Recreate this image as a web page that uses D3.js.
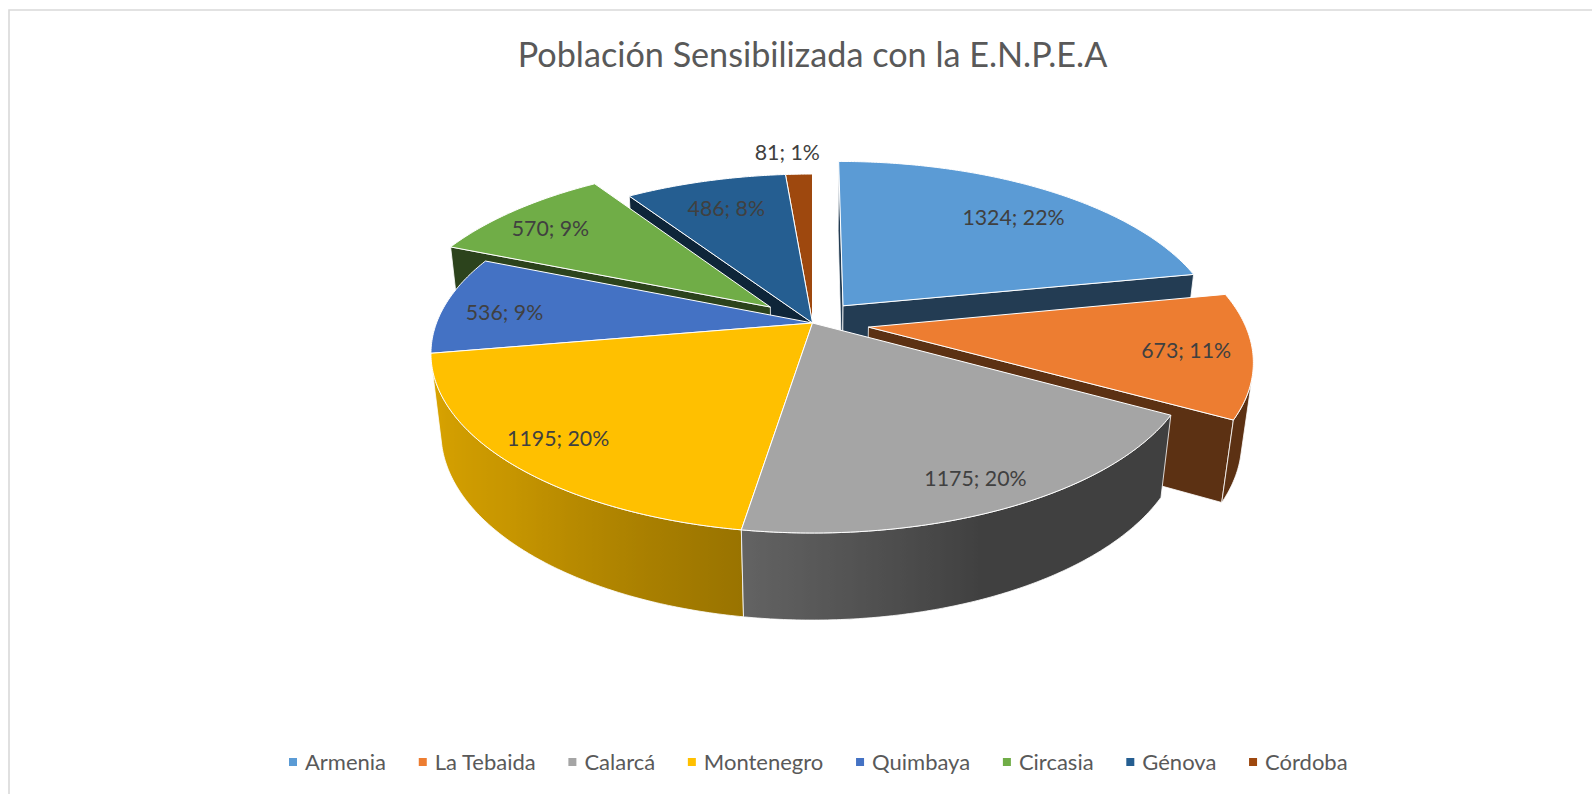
<!DOCTYPE html>
<html>
<head>
<meta charset="utf-8">
<style>
    html, body { margin: 0; padding: 0; background: white; }
    svg { display: block; font-family: Lato, sans-serif; }
</style>
<script src="https://cdn.jsdelivr.net/npm/d3@7"></script>
</head>
<body>
<svg id="chart" width="1592" height="794"></svg>
<script>
// values
const municipios = ["Armenia", "La Tebaida", "Calarcá", "Montenegro", "Quimbaya", "Circasia", "Génova", "Córdoba"];
const poblacion = [1324, 673, 1175, 1195, 536, 570, 486, 81];
const porcentaje = [22, 11, 20, 20, 9, 9, 8, 1];

const colores = ["#5b9bd5", "#ed7d31", "#a5a5a5", "#ffc000", "#4472c4", "#70ad47", "#255e91", "#9e480e"];
const separacion = [0.13, 0.15, 0, 0, 0, 0.147, 0, 0];       // how far each slice is pulled out
const labelRadio = [0.90, 0.98, 0.86, 0.85, 0.83, 0.97, 0.78, 1.175];
const labelGiro = [2, 0, 0, 1, -2, -1.5, 0, -1.5];           // degrees

const width = 1592, height = 794;
const cx = 812.5, cy = 323;
// perspective of the tilted disc
const radX = 376, radY = 174.3, depth = 80, persp = 0.17, perspH = 0.026;

const svg = d3.select("#chart");
const defs = svg.append("defs");

function project(u, v, h) {
    let w = 1 - persp * v + perspH * h;
    return [cx + radX * u / w, cy + (radY * v + depth * h) / w];
}

// wall brightness by angle (degrees from 12 o'clock)
const brillo = d3.scaleLinear().domain([0, 158, 189, 225, 260, 360]).range([0.39, 0.39, 0.6, 0.78, 0.87, 0.87]).clamp(true);

function shade(color, k) {
    let c = d3.rgb(color);
    return d3.rgb(c.r * k, c.g * k, c.b * k).formatHex();
}

const line = d3.line();
const closed = d3.line().curve(d3.curveLinearClosed);

const arcs = d3.pie().sort(null).value(d => d)(poblacion).map((a, i) => {
    let mid = (a.startAngle + a.endAngle) / 2;
    let d = separacion[i];
    return {
        i: i, a0: a.startAngle, a1: a.endAngle, mid: mid,
        ox: d * Math.sin(mid), oy: -d * Math.cos(mid)
    };
});

function rim(s, a, h) {
    return project(s.ox + Math.sin(a), s.oy - Math.cos(a), h);
}

function sweep(lo, hi) {
    return d3.range(lo, hi, 0.01).concat([hi]);
}

function drawSlice(g, s) {
    let color = colores[s.i];
    let apexTop = project(s.ox, s.oy, 0);
    let apexBot = project(s.ox, s.oy, 1);
    let dark = shade(color, 0.39);

    // radial faces, only the ones turned to the camera
    let start = [apexTop, rim(s, s.a0, 0), rim(s, s.a0, 1), apexBot];
    let end = [apexTop, rim(s, s.a1, 0), rim(s, s.a1, 1), apexBot];
    if (d3.polygonArea(start) > 0) {
        g.append("path").attr("d", closed(start)).attr("fill", dark).attr("stroke", "#fff").attr("stroke-width", 0.8);
    }
    if (d3.polygonArea(end) < 0) {
        g.append("path").attr("d", closed(end)).attr("fill", dark).attr("stroke", "#fff").attr("stroke-width", 0.8);
    }

    // outer wall: keep the part of the rim facing the camera
    let steps = sweep(s.a0, s.a1);
    let seen = [];
    for (let j = 0; j < steps.length - 1; j++) {
        let a = steps[j], b = steps[j + 1];
        if (d3.polygonArea([rim(s, a, 0), rim(s, b, 0), rim(s, b, 1), rim(s, a, 1)]) > 0) {
            seen.push(a, b);
        }
    }
    if (seen.length) {
        let ang = sweep(d3.min(seen), d3.max(seen));
        let xs = ang.map(a => rim(s, a, 0)[0]);
        let x1 = d3.min(xs), x2 = d3.max(xs);
        let pos = d3.scaleLinear().domain([x1, x2]).range([0, 1]);
        let id = "wall" + s.i;
        defs.append("linearGradient")
            .attr("id", id)
            .attr("gradientUnits", "userSpaceOnUse")
            .attr("x1", x1).attr("x2", x2).attr("y1", 0).attr("y2", 0)
            .selectAll("stop")
            .data(ang.slice().sort((p, q) => rim(s, p, 0)[0] - rim(s, q, 0)[0]))
            .enter().append("stop")
            .attr("offset", a => pos(rim(s, a, 0)[0]))
            .attr("stop-color", a => shade(color, brillo(a * 180 / Math.PI)));
        let outline = ang.map(a => rim(s, a, 0)).concat(ang.slice().reverse().map(a => rim(s, a, 1)));
        g.append("path")
            .attr("d", closed(outline))
            .attr("fill", "url(#" + id + ")")
            .attr("stroke", "#fff")
            .attr("stroke-width", 0.8);
    }

    // top face
    let pts = sweep(s.a0, s.a1).map(a => rim(s, a, 0));
    g.append("path")
        .attr("d", closed([apexTop].concat(pts)))
        .attr("fill", color)
        .attr("stroke", "#fff")
        .attr("stroke-width", 1)
        .attr("stroke-linejoin", "round");
}

// chart frame
svg.append("path")
    .attr("d", line([[9, height], [9, 10], [width, 10]]))
    .attr("fill", "none")
    .attr("stroke", "#d9d9d9")
    .attr("stroke-width", 1.6);

// title
svg.append("text")
    .attr("x", 812.5)
    .attr("y", 67)
    .attr("text-anchor", "middle")
    .attr("font-size", 34.2)
    .attr("fill", "#595959")
    .text("Población Sensibilizada con la E.N.P.E.A");

// back slices first
let pie3d = svg.append("g");
let order = arcs.slice().sort((p, q) => ((-Math.cos(p.mid) + p.oy) - (-Math.cos(q.mid) + q.oy)));
order.forEach(s => drawSlice(pie3d.append("g"), s));

// data labels
let labels = svg.append("g").attr("font-size", 21.3).attr("fill", "#404040").attr("text-anchor", "middle");
arcs.forEach(s => {
    let a = s.mid + labelGiro[s.i] * Math.PI / 180;
    let r = labelRadio[s.i];
    let p = project(r * Math.sin(a), -r * Math.cos(a), 0);
    labels.append("text")
        .attr("x", p[0])
        .attr("y", p[1])
        .attr("dy", "0.35em")
        .text(poblacion[s.i] + "; " + porcentaje[s.i] + "%");
});

// legend
let legend = svg.append("g").attr("font-size", 22).attr("fill", "#595959");
let lx = 289, ly = 762;
municipios.forEach((name, i) => {
    legend.append("rect")
        .attr("x", lx)
        .attr("y", ly - 4)
        .attr("width", 8)
        .attr("height", 8)
        .attr("fill", colores[i]);
    let t = legend.append("text")
        .attr("x", lx + 16)
        .attr("y", ly)
        .attr("dy", "0.35em")
        .text(name);
    lx += 16 + t.node().getComputedTextLength() + 32.7;
});
</script>
</body>
</html>
